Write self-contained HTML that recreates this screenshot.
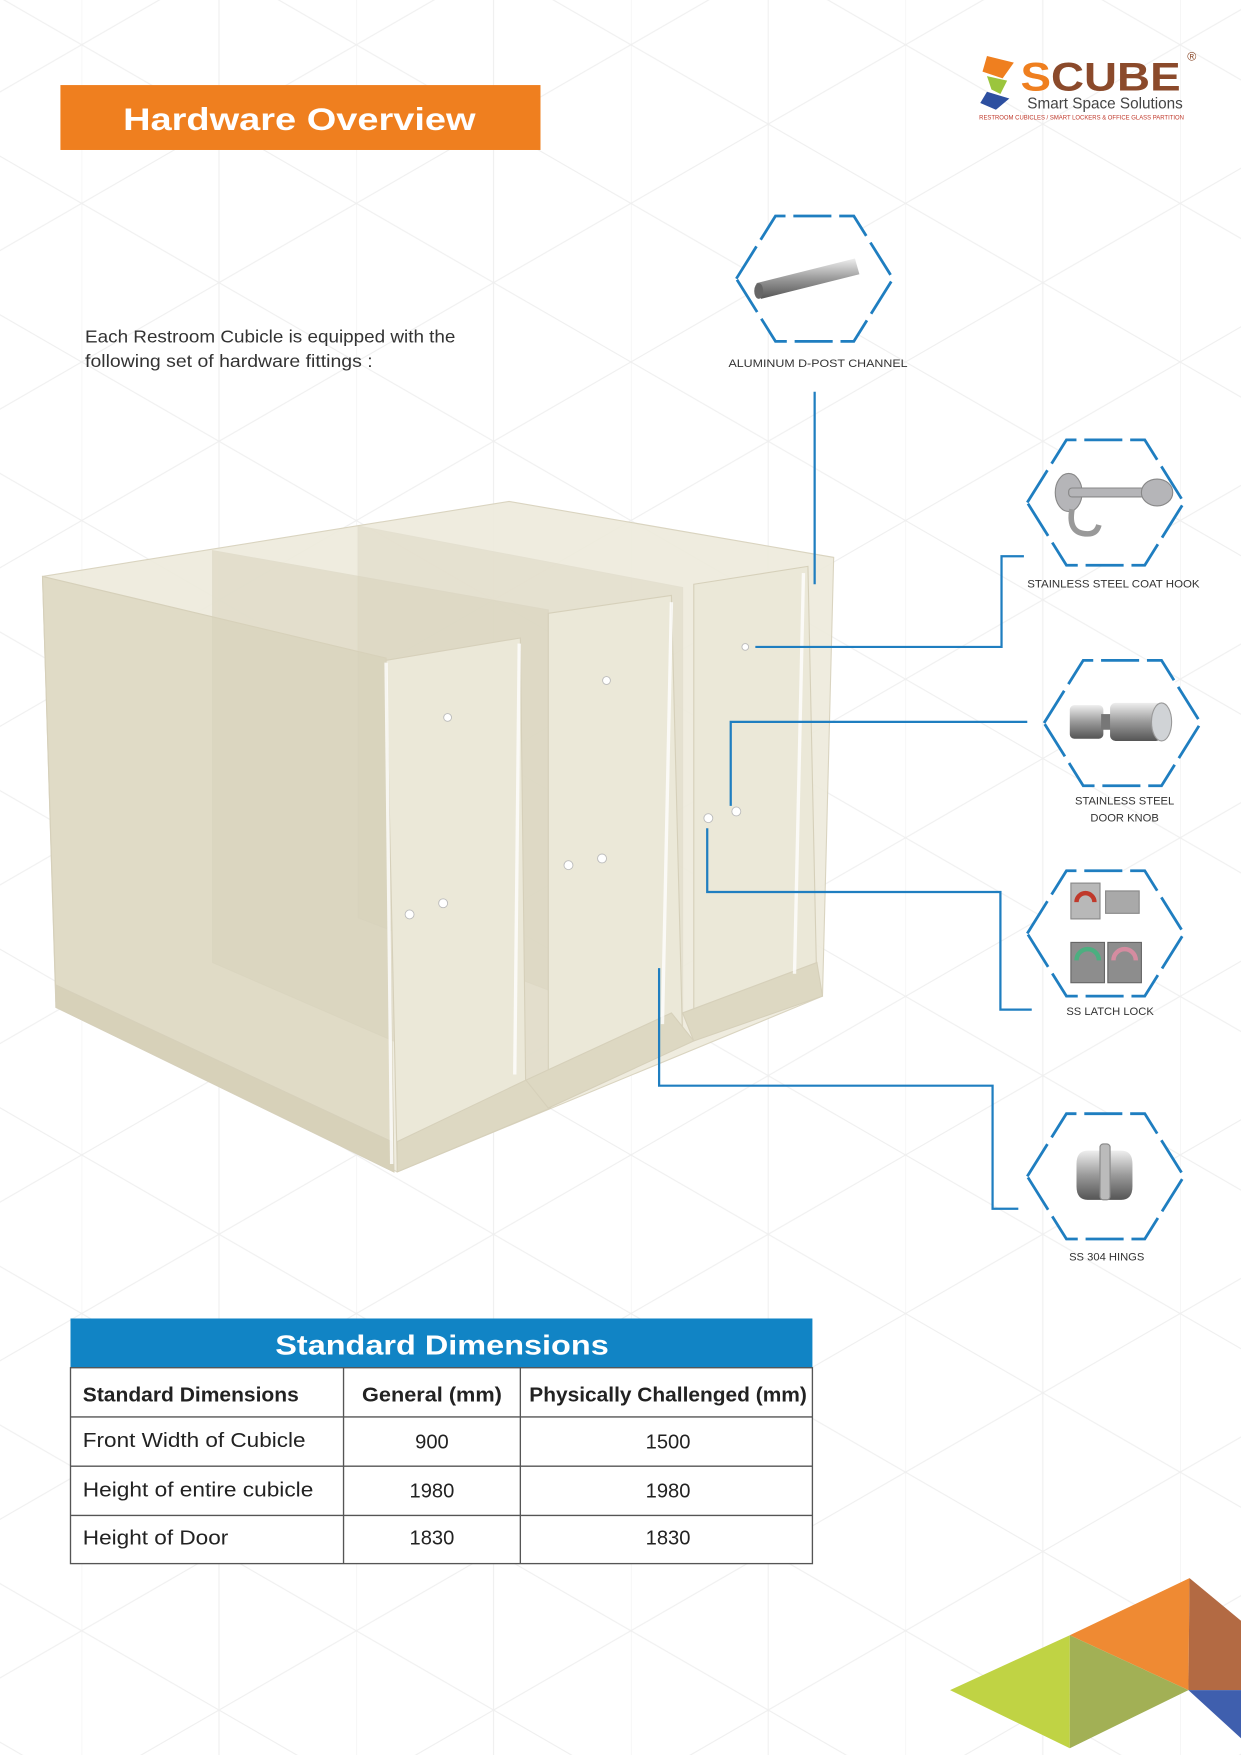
<!DOCTYPE html>
<html><head><meta charset="utf-8"><style>
html,body{margin:0;padding:0;background:#fff;}
svg{display:block;}
text{font-family:"Liberation Sans",sans-serif;}
</style></head><body>
<svg width="1241" height="1755" viewBox="0 0 1109 1568" preserveAspectRatio="none" xmlns="http://www.w3.org/2000/svg">
<defs>
<pattern id="grid" x="73" y="40" width="245.4" height="141.7" patternUnits="userSpaceOnUse">
<g stroke="#efefef" stroke-width="1" fill="none">
<line x1="0" y1="0" x2="0" y2="141.7"/><line x1="122.7" y1="0" x2="122.7" y2="141.7"/>
<line x1="0" y1="0" x2="245.4" y2="141.7"/><line x1="0" y1="141.7" x2="245.4" y2="0"/>
</g></pattern>
<linearGradient id="metal" x1="0" y1="0" x2="0" y2="1"><stop offset="0" stop-color="#eee"/><stop offset="0.5" stop-color="#9a9a9a"/><stop offset="1" stop-color="#555"/></linearGradient>
</defs>
<rect width="1109" height="1568" fill="#fff"/>
<rect width="1109" height="1568" fill="url(#grid)"/>

<!-- Title -->
<rect x="54" y="76" width="429" height="58" fill="#ef7f1f"/>
<text x="110" y="116" font-size="28" font-weight="bold" fill="#fff" textLength="315" lengthAdjust="spacingAndGlyphs">Hardware Overview</text>

<!-- Logo -->
<polygon points="882,50 906,56 896,70 878,64" fill="#ef7f1f"/>
<polygon points="882,68 900,72 894,84 886,80" fill="#9bc53d"/>
<polygon points="882,82 902,88 890,98 876,92" fill="#2d4fa0"/>
<text x="912" y="81" font-size="36" font-weight="bold" fill="#8b4a2b" textLength="143" lengthAdjust="spacingAndGlyphs"><tspan fill="#ef7f1f">S</tspan>CUBE</text>
<text x="1061" y="54" font-size="11" fill="#8b4a2b">®</text>
<text x="918" y="97" font-size="14" fill="#444" textLength="139" lengthAdjust="spacingAndGlyphs">Smart Space Solutions</text>
<text x="875" y="107" font-size="6" fill="#c0392b" textLength="183" lengthAdjust="spacingAndGlyphs">RESTROOM CUBICLES / SMART LOCKERS &amp; OFFICE GLASS PARTITION</text>

<!-- Intro -->
<text x="76" y="306" font-size="15.5" fill="#333" textLength="331" lengthAdjust="spacingAndGlyphs">Each Restroom Cubicle is equipped with the</text>
<text x="76" y="328" font-size="15.5" fill="#333" textLength="257" lengthAdjust="spacingAndGlyphs">following set of hardware fittings :</text>

<!-- Cubicle -->
<g stroke="#d6d0ba" stroke-width="1">
<polygon points="38,515 455,448 745,498 735,890 355,1047 50,900" fill="#eeebdc" opacity="0.9"/>
<polygon points="38,515 345,588 352,1047 50,895" fill="#e0dbc6"/>
<polygon points="190,492 490,545 490,990 190,860" fill="#d8d2bb" opacity="0.5"/>
<polygon points="320,470 610,525 610,930 320,820" fill="#d8d2bb" opacity="0.4"/>
<polygon points="345,590 465,570 470,990 355,1045" fill="#ebe8d8"/>
<polygon points="490,548 600,532 610,930 490,990" fill="#ebe8d8"/>
<polygon points="620,522 722,506 730,885 620,920" fill="#ebe8d8"/>
<polygon points="50,880 350,1020 352,1047 50,900" fill="#d7d1b9"/>
<polygon points="355,1020 470,965 492,990 355,1047" fill="#ddd8c2"/>
<polygon points="470,965 600,905 620,930 490,990" fill="#ddd8c2"/>
<polygon points="610,905 730,860 735,890 620,930" fill="#ddd8c2"/>
</g>
<g stroke="#fff" stroke-width="3" opacity="0.8">
<line x1="345" y1="592" x2="350" y2="1040"/><line x1="464" y1="575" x2="460" y2="960"/>
<line x1="600" y1="538" x2="592" y2="915"/><line x1="718" y1="512" x2="710" y2="870"/>
</g>
<g fill="#fff" stroke="#bbb" stroke-width="0.8">
<circle cx="400" cy="641" r="3.5"/><circle cx="542" cy="608" r="3.5"/><circle cx="666" cy="578" r="3"/>
<circle cx="366" cy="817" r="4"/><circle cx="396" cy="807" r="4"/>
<circle cx="508" cy="773" r="4"/><circle cx="538" cy="767" r="4"/>
<circle cx="633" cy="731" r="4"/><circle cx="658" cy="725" r="4"/>
</g>

<!-- Connectors -->
<g stroke="#1f7ec0" stroke-width="2" fill="none">
<polyline points="728,350 728,522"/>
<polyline points="675,578 895,578 895,497 915,497"/>
<polyline points="918,645 653,645 653,720"/>
<polyline points="632,740 632,797 894,797 894,902 922,902"/>
<polyline points="589,865 589,970 887,970 887,1080 910,1080"/>
</g>

<!-- Hexagons -->
<g stroke="#1f7ec0" stroke-width="2.5" fill="#fff" stroke-dasharray="34 7">
<polygon points="658,249 693,193 763,193 798,249 763,305 693,305"/>
<polygon points="918,449 953,393 1023,393 1058,449 1023,505 953,505"/>
<polygon points="933,646 968,590 1038,590 1073,646 1038,702 968,702"/>
<polygon points="918,834 953,778 1023,778 1058,834 1023,890 953,890"/>
<polygon points="918,1051 953,995 1023,995 1058,1051 1023,1107 953,1107"/>
</g>

<!-- Icons -->
<polygon points="676,253 764,231 768,245 680,267" fill="url(#metal)"/>
<ellipse cx="678" cy="260" rx="4" ry="7" fill="#666"/>
<g fill="#b5b5b8" stroke="#888" stroke-width="1">
<ellipse cx="955" cy="440" rx="12" ry="17"/>
<rect x="955" y="436" width="68" height="8" rx="3"/>
<ellipse cx="1034" cy="440" rx="14" ry="12"/>
<path d="M958 455 q-4 22 14 22 q8 0 10 -8" fill="none" stroke="#999" stroke-width="5"/>
</g>
<g>
<rect x="956" y="630" width="30" height="30" rx="4" fill="url(#metal)"/>
<rect x="984" y="638" width="10" height="14" fill="#777"/>
<rect x="992" y="628" width="46" height="34" rx="5" fill="url(#metal)"/>
<ellipse cx="1038" cy="645" rx="9" ry="17" fill="#d0d3d6" stroke="#999"/>
</g>
<g>
<rect x="957" y="789" width="26" height="32" fill="#b8b8b8" stroke="#888"/>
<path d="M962 806 a8 8 0 0 1 16 0" fill="none" stroke="#c0392b" stroke-width="4"/>
<rect x="988" y="796" width="30" height="20" fill="#a9a9a9" stroke="#888"/>
<rect x="957" y="842" width="30" height="36" fill="#8d8d8d" stroke="#666"/>
<path d="M962 858 a10 10 0 0 1 20 0" fill="none" stroke="#4caf80" stroke-width="4"/>
<rect x="990" y="842" width="30" height="36" fill="#8d8d8d" stroke="#666"/>
<path d="M995 858 a10 10 0 0 1 20 0" fill="none" stroke="#d58ca0" stroke-width="4"/>
</g>
<g>
<path d="M962 1040 q0 -12 10 -12 h30 q10 0 10 12 v20 q0 12 -10 12 h-30 q-10 0 -10 -12z" fill="url(#metal)"/>
<rect x="983" y="1022" width="9" height="50" rx="3" fill="#bbb" stroke="#888"/>
</g>

<!-- Labels -->
<g font-size="10" fill="#333" text-anchor="middle">
<text x="731" y="328" textLength="160" lengthAdjust="spacingAndGlyphs">ALUMINUM D-POST CHANNEL</text>
<text x="995" y="525" textLength="154" lengthAdjust="spacingAndGlyphs">STAINLESS STEEL COAT HOOK</text>
<text x="1005" y="719">STAINLESS STEEL</text>
<text x="1005" y="734">DOOR KNOB</text>
<text x="992" y="907">SS LATCH LOCK</text>
<text x="989" y="1126">SS 304 HINGS</text>
</g>

<!-- Table -->
<rect x="63" y="1178" width="663" height="44" fill="#1184c5"/>
<text x="395" y="1210" text-anchor="middle" font-size="25" font-weight="bold" fill="#fff" textLength="298" lengthAdjust="spacingAndGlyphs">Standard Dimensions</text>
<g stroke="#555" stroke-width="1.2" fill="none">
<rect x="63" y="1222" width="663" height="175" fill="#fff"/>
<line x1="63" y1="1266" x2="726" y2="1266"/><line x1="63" y1="1310" x2="726" y2="1310"/><line x1="63" y1="1354" x2="726" y2="1354"/>
<line x1="307" y1="1222" x2="307" y2="1397"/><line x1="465" y1="1222" x2="465" y2="1397"/>
</g>
<g font-size="18" fill="#222">
<text x="74" y="1252" font-weight="bold" textLength="193" lengthAdjust="spacingAndGlyphs">Standard Dimensions</text>
<text x="386" y="1252" font-weight="bold" text-anchor="middle" textLength="125" lengthAdjust="spacingAndGlyphs">General (mm)</text>
<text x="597" y="1252" font-weight="bold" text-anchor="middle" textLength="248" lengthAdjust="spacingAndGlyphs">Physically Challenged (mm)</text>
<text x="74" y="1293" textLength="199" lengthAdjust="spacingAndGlyphs">Front Width of Cubicle</text>
<text x="386" y="1294" text-anchor="middle">900</text>
<text x="597" y="1294" text-anchor="middle">1500</text>
<text x="74" y="1337" textLength="206" lengthAdjust="spacingAndGlyphs">Height of entire cubicle</text>
<text x="386" y="1338" text-anchor="middle">1980</text>
<text x="597" y="1338" text-anchor="middle">1980</text>
<text x="74" y="1380" textLength="130" lengthAdjust="spacingAndGlyphs">Height of Door</text>
<text x="386" y="1380" text-anchor="middle">1830</text>
<text x="597" y="1380" text-anchor="middle">1830</text>
</g>

<!-- Corner diamond -->
<polygon points="956,1461 1063,1410 1062,1510" fill="#ef8a33"/>
<polygon points="1063,1410 1109,1448 1109,1510 1062,1510" fill="#b36a43"/>
<polygon points="1062,1510 1109,1510 1109,1553" fill="#3f5fae"/>
<polygon points="849,1510 956,1461 956,1562" fill="#c0d344"/>
<polygon points="956,1461 1062,1510 956,1562" fill="#a2b055"/>
</svg>
</body></html>
